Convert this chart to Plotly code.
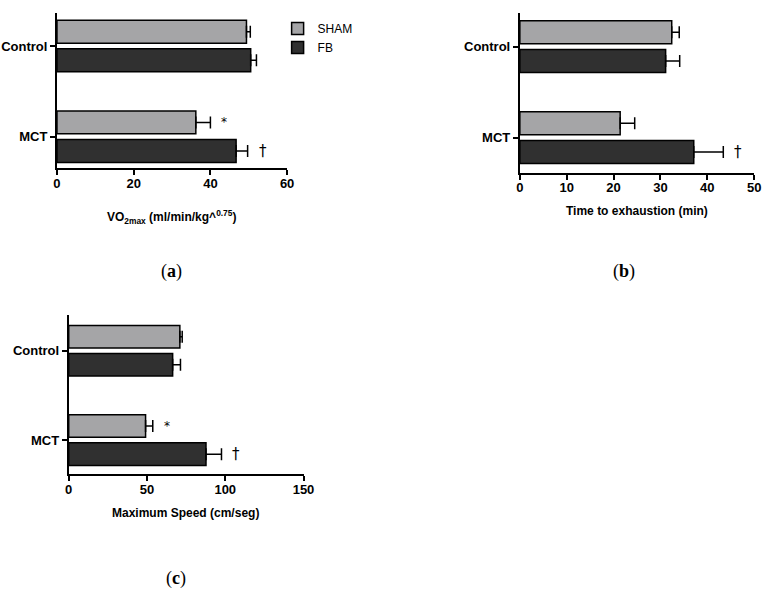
import plotly.graph_objects as go

# ---- data ----
categories = ["Control", "MCT"]
series_names = ["SHAM", "FB"]

vo2_sham = [49.4, 36.2]
vo2_sham_err = [1.0, 3.8]
vo2_fb = [50.5, 46.7]
vo2_fb_err = [1.5, 3.0]
vo2_sham_marks = ["", "*"]
vo2_fb_marks = ["", "†"]

time_sham = [32.4, 21.4]
time_sham_err = [1.6, 3.1]
time_fb = [31.1, 37.1]
time_fb_err = [3.0, 6.3]
time_sham_marks = ["", ""]
time_fb_marks = ["", "†"]

speed_sham = [71.0, 49.1]
speed_sham_err = [1.5, 4.6]
speed_fb = [66.4, 87.7]
speed_fb_err = [5.0, 9.9]
speed_sham_marks = ["", "*"]
speed_fb_marks = ["", "†"]

x_ticks_a = [0, 20, 40, 60]
x_ticks_b = [0, 10, 20, 30, 40, 50]
x_ticks_c = [0, 50, 100, 150]

# ---- styling ----
W, H = 777, 593
SHAM_COLOR = "#a5a5a7"
FB_COLOR = "#303030"
BARGAP = 0.37
GROUPGAP = 0.2
FONT = "Liberation Sans"

def px_x(p):
    return p / W

def px_y(p):
    return 1 - p / H

fig = go.Figure()

panels = [
    ("", vo2_sham, vo2_sham_err, vo2_fb, vo2_fb_err, vo2_sham_marks, vo2_fb_marks,
     [0, 60], x_ticks_a, (54, 288.7), (13, 168), [1.345, -0.364]),
    ("2", time_sham, time_sham_err, time_fb, time_fb_err, time_sham_marks, time_fb_marks,
     [0, 50], x_ticks_b, (526, 765), (13, 172.7), [1.385, -0.37]),
    ("3", speed_sham, speed_sham_err, speed_fb, speed_fb_err, speed_sham_marks, speed_fb_marks,
     [0, 150], x_ticks_c, (66, 305.4), (315, 474), [1.38, -0.4]),
]

annotations = []
slot = (1 - BARGAP) / 4

for i, (sfx, sham, sham_e, fb, fb_e, sm, fm, xr, ticks, xd, yd, yr) in enumerate(panels):
    xa = "x" + sfx
    ya = "y" + sfx
    for name, vals, errs, color in [("SHAM", sham, sham_e, SHAM_COLOR), ("FB", fb, fb_e, FB_COLOR)]:
        fig.add_trace(go.Bar(
            x=vals, y=categories, orientation="h", name=name,
            marker=dict(color=color, line=dict(color="black", width=1.5)),
            error_x=dict(type="data", array=errs, symmetric=False,
                         arrayminus=[0] * len(errs), color="black",
                         thickness=1.5, width=6),
            xaxis=xa, yaxis=ya, showlegend=(i == 0),
        ))
    for marks, vals, errs, off, size in [(sm, sham, sham_e, -slot, 12), (fm, fb, fb_e, slot, 15)]:
        for j, m in enumerate(marks):
            if m:
                annotations.append(dict(
                    x=vals[j] + errs[j], y=j + off, xref=xa, yref=ya,
                    text=m, showarrow=False, xanchor="left", yanchor="middle",
                    xshift=9, font=dict(family="DejaVu Sans", size=size, color="black"),
                ))
    axis_common = dict(showline=True, linecolor="black", linewidth=2,
                       ticks="outside", tickcolor="black", tickwidth=1.5, ticklen=5,
                       showgrid=False, zeroline=False,
                       tickfont=dict(family=FONT, size=13, color="black", weight="bold"))
    fig.layout["xaxis" + sfx] = dict(
        axis_common, range=xr, tickvals=ticks, domain=[px_x(xd[0]), px_x(xd[1])],
        anchor=ya, fixedrange=True, ticklabelstandoff=-3)
    fig.layout["yaxis" + sfx] = dict(
        axis_common, type="category", range=yr,
        domain=[px_y(yd[1]), px_y(yd[0])], anchor=xa, fixedrange=True)

# axis titles
titles = [
    ("<b>VO<sub>2max</sub> (ml/min/kg^<sup>0.75</sup>)</b>", 171, 217),
    ("<b>Time to exhaustion (min)</b>", 645, 211),
    ("<b>Maximum Speed (cm/seg)</b>", 185, 513),
]
for t, xp, yp in titles:
    annotations.append(dict(x=px_x(xp), y=px_y(yp), xref="paper", yref="paper",
                            text=t, showarrow=False, xanchor="center", yanchor="middle",
                            font=dict(family=FONT, size=12, color="black")))

# panel labels
for t, xp, yp in [("(<b>a</b>)", 171, 271), ("(<b>b</b>)", 632, 271), ("(<b>c</b>)", 175, 578)]:
    annotations.append(dict(x=px_x(xp), y=px_y(yp), xref="paper", yref="paper",
                            text=t, showarrow=False, xanchor="center", yanchor="middle",
                            font=dict(family="Liberation Serif", size=18, color="black")))

fig.update_layout(
    width=W, height=H, margin=dict(l=0, r=0, t=0, b=0),
    paper_bgcolor="white", plot_bgcolor="white",
    barmode="group", bargap=BARGAP, bargroupgap=GROUPGAP,
    annotations=annotations,
    legend=dict(x=px_x(279), y=px_y(14), xanchor="left", yanchor="top",
                font=dict(family=FONT, size=12, color="black"),
                bgcolor="rgba(0,0,0,0)", tracegroupgap=0, itemwidth=30),
    showlegend=True,
)

fig.write_html("out.html", config={"displayModeBar": False},
               post_script="document.body.style.margin='0';")
